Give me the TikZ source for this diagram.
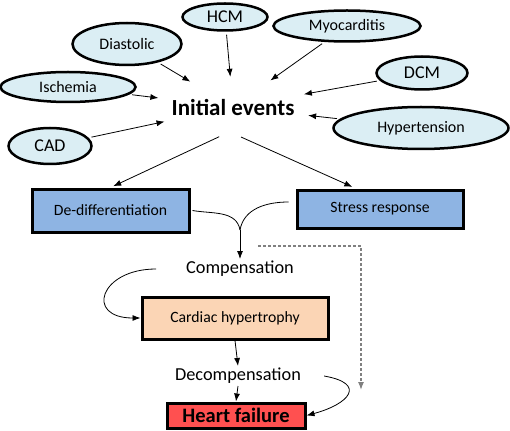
\documentclass[tikz,border=0pt]{standalone}
\usepackage{fontspec}
\setmainfont{Carlito}
\usetikzlibrary{shapes,arrows.meta}
\definecolor{ovalfill}{HTML}{DBEEF4}
\definecolor{boxblue}{HTML}{8EB4E3}
\definecolor{boxpeach}{HTML}{FBD5B5}
\definecolor{boxred}{HTML}{FF5050}
\newcommand{\fsz}[1]{\fontsize{#1}{#1}\selectfont}
\begin{document}
\begin{tikzpicture}[x=1pt,y=1pt,>={Latex[length=8pt,width=6pt]},
	cause/.style={ellipse,draw,line width=2.5pt,fill=ovalfill,inner sep=0pt},
	stage/.style={rectangle,draw,line width=3pt,inner sep=0pt,font=\fsz{15.7}},
	word/.style={inner sep=2pt,font=\fsz{18.3}},
	link/.style={->,line width=0.8pt}]
\useasboundingbox (0,0) rectangle (510,-430);
\node[cause,minimum width=85,minimum height=27,font=\fsz{18}](hcm)at(225,-17){HCM};
\node[cause,minimum width=109,minimum height=42,font=\fsz{16}](dias)at(127,-44){Diastolic};
\node[cause,minimum width=147,minimum height=31,font=\fsz{16}](myo)at(347,-26){Myocarditis};
\node[cause,minimum width=91,minimum height=33,font=\fsz{18}](dcm)at(422,-73){DCM};
\node[cause,minimum width=135,minimum height=30,font=\fsz{16}](isch)at(68,-87){Ischemia};
\node[cause,minimum width=83,minimum height=36,font=\fsz{18}](cad)at(50,-146){CAD};
\node[cause,minimum width=175,minimum height=42,font=\fsz{16}](hyp)at(421,-128){Hypertension};
\node[ellipse,inner xsep=-12pt,inner ysep=0pt,minimum width=156,minimum height=60,font=\fsz{23}\bfseries](ie)at(233,-107){Initial events};
\foreach \c in {hcm,dias,myo,dcm,isch,cad,hyp}
	\draw[link,shorten <=3pt](\c)--(ie);
\node[stage,fill=boxblue,minimum width=157,minimum height=43](dd)at(110.5,-210.5){De-differentiation};
\node[stage,fill=boxblue,minimum width=166,minimum height=38](st)at(380,-209){Stress response};
\draw[link,shorten >=3pt](ie.245)--(dd.north);
\draw[link,shorten >=4pt](ie.285)--([xshift=-24pt]st.north);
\coordinate(m)at(240,-230);
\node[word](comp)at(240,-269){Compensation};
\draw[line width=0.8pt]([xshift=2pt]dd.east)to[out=-10,in=100](m);
\draw[line width=0.8pt]([shift={(-7pt,7pt)}]st.west)to[out=180,in=80](m);
\draw[link](m)--(comp.north);
\node[stage,fill=boxpeach,minimum width=186,minimum height=42](ch)at(235,-318){Cardiac hypertrophy};
\draw[link]([xshift=-28pt]comp.west)to[out=180,in=180,looseness=2.8](ch.west);
\node[word](dc)at(238,-376){Decompensation};
\node[stage,fill=boxred,minimum width=138,minimum height=25,font=\fsz{20.5}\bfseries](hf)at(236,-415.5){Heart failure};
\draw[link](ch.south)--(dc.north);
\draw[link](dc.south)--(hf.north);
\draw[link]([xshift=21pt]dc.east)to[out=-10,in=15,looseness=2.6](hf.east);
\coordinate(ds)at(258,-246);
\coordinate(de)at(361,-390);
\draw[->,gray,line width=1.2pt,dash pattern=on 3pt off 2pt](ds)-|(de);
\end{tikzpicture}
\end{document}
